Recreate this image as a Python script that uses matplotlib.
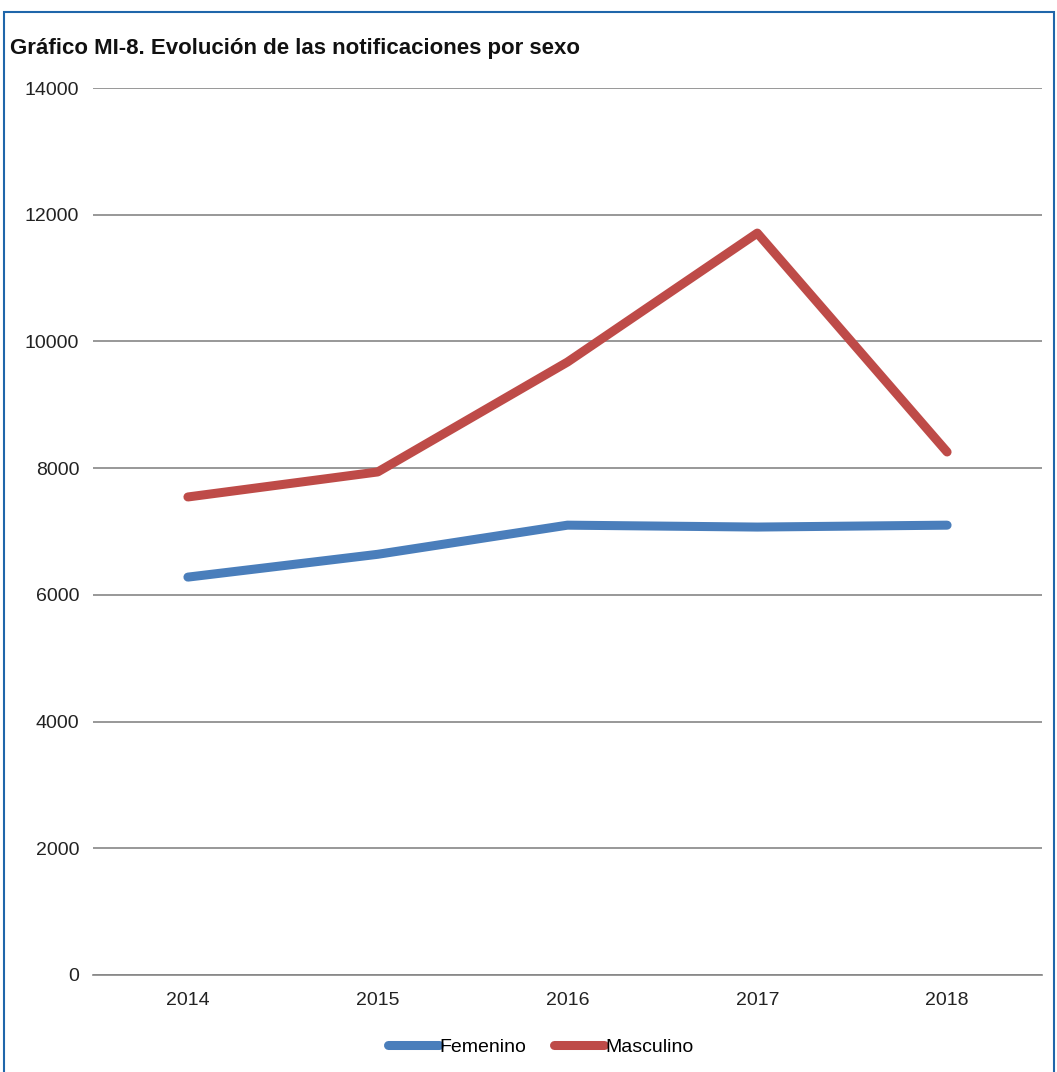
import matplotlib.pyplot as plt
from matplotlib.patches import Rectangle

plt.rcParams['font.family'] = ['Liberation Sans', 'DejaVu Sans']

# Data
years = ['2014', '2015', '2016', '2017', '2018']
femenino = [6280, 6640, 7100, 7070, 7100]
masculino = [7545, 7940, 9675, 11710, 8255]
yticks = [0, 2000, 4000, 6000, 8000, 10000, 12000, 14000]

fig = plt.figure(figsize=(10.57, 10.72), dpi=100)
ax = fig.add_axes([0.088, 0.0905, 0.8978, 0.8274])

x = range(len(years))
ax.plot(x, femenino, color='#4A7EBB', lw=6.5, solid_capstyle='round',
        solid_joinstyle='round', label='Femenino')
ax.plot(x, masculino, color='#BE4B48', lw=6.5, solid_capstyle='round',
        solid_joinstyle='round', label='Masculino')

ax.set_xlim(-0.5, 4.5)
ax.set_ylim(0, 14000)
ax.set_xticks(list(x))
ax.set_xticklabels(years)
ax.set_yticks(yticks)
ax.set_yticklabels([str(v) for v in yticks])
ax.tick_params(length=0, labelsize=14, colors='#222222')
ax.tick_params(axis='y', pad=10)
ax.tick_params(axis='x', pad=12)
ax.grid(axis='y', color='#868686', lw=1.2)
ax.set_axisbelow(True)
for s in ['left', 'right', 'top']:
    ax.spines[s].set_visible(False)
ax.spines['bottom'].set_color('#868686')
ax.spines['bottom'].set_linewidth(1.2)

leg = ax.legend(loc='center', bbox_to_anchor=(0.472, -0.081), ncol=2, frameon=False,
                fontsize=14, handlelength=2.6, handletextpad=0.05, columnspacing=1.4)

fig.text(0.0095, 0.955, 'Gráfico MI-8. Evolución de las notificaciones por sexo',
         fontsize=16, fontweight='bold', va='center', ha='left', color='#111111')

# outer frame
fig.patches.append(Rectangle((0.004, -0.01), 0.993, 0.999, transform=fig.transFigure,
                             fill=False, edgecolor='#1F66AA', lw=1.5))

fig.savefig('out.png', dpi=100)
